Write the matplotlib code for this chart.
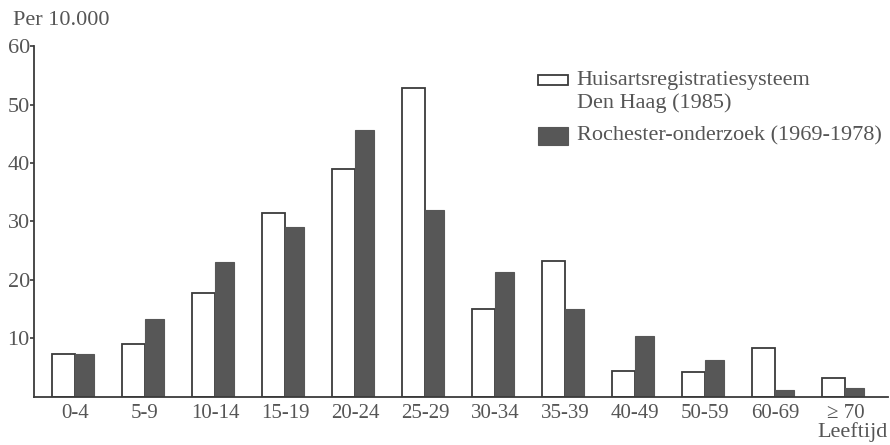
import numpy as np
import matplotlib as mpl
mpl.use('Agg')
import matplotlib.pyplot as plt
from matplotlib.patches import Rectangle

# ========================================================================
# Data
# ========================================================================
age_groups = ['0-4', '5-9', '10-14', '15-19', '20-24', '25-29',
              '30-34', '35-39', '40-49', '50-59', '60-69', '\u2265 70']
den_haag = [7.4, 9.1, 17.8, 31.5, 39.0, 52.9,
            15.1, 23.3, 4.4, 4.3, 8.4, 3.3]
rochester = [7.4, 13.3, 23.1, 29.0, 45.7, 31.9,
             21.4, 15.0, 10.4, 6.4, 1.2, 1.5]
yticks = [10, 20, 30, 40, 50, 60]

plt.rc('font', family='Liberation Serif')
txt_col = '#555555'
line_col = '#3a3a3a'
dark_col = '#575757'
fs = 16

fig = plt.figure(figsize=(8.9, 4.45), dpi=100)
ax = fig.add_axes([0.0382, 0.1079, 0.9596, 0.7887])

x = np.arange(len(age_groups))
ax.bar(x, den_haag, width=-0.33, align='edge', color='white',
       edgecolor=line_col, linewidth=1.3)
ax.bar(x, rochester, width=0.27, align='edge', color=dark_col,
       edgecolor=dark_col, linewidth=0.8)

ax.set_xlim(-0.586, 11.61)
ax.set_ylim(0, 60)
ax.set_xticks(x)
ax.set_xticklabels(age_groups, fontsize=15, color=txt_col)
ax.set_yticks(yticks)
ax.set_yticklabels([str(v) for v in yticks], fontsize=16, color=txt_col)
ax.tick_params(axis='x', length=0, pad=5)
ax.tick_params(axis='y', length=3, width=1.2, color=line_col, pad=0)
for s in ['top', 'right']:
    ax.spines[s].set_visible(False)
for s in ['left', 'bottom']:
    ax.spines[s].set_color(line_col)
    ax.spines[s].set_linewidth(1.3)

# axis captions
fig.text(0.015, 0.955, 'Per 10.000', fontsize=fs, color=txt_col,
         ha='left', va='center')
fig.text(0.997, 0.006, 'Leeftijd', fontsize=fs, color=txt_col,
         ha='right', va='bottom')

# legend drawn by hand
fig.patches.append(Rectangle((0.6045, 0.809), 0.0337, 0.0225,
                             transform=fig.transFigure, facecolor='white',
                             edgecolor=line_col, linewidth=1.3))
fig.patches.append(Rectangle((0.6045, 0.674), 0.0337, 0.040,
                             transform=fig.transFigure, facecolor=dark_col,
                             edgecolor=dark_col, linewidth=0.8))
fig.text(0.648, 0.818, 'Huisartsregistratiesysteem', fontsize=fs,
         color=txt_col, ha='left', va='center')
fig.text(0.648, 0.769, 'Den Haag (1985)', fontsize=fs,
         color=txt_col, ha='left', va='center')
fig.text(0.648, 0.694, 'Rochester-onderzoek (1969-1978)', fontsize=fs,
         color=txt_col, ha='left', va='center')

plt.savefig('out.png', format='png', dpi=100)
